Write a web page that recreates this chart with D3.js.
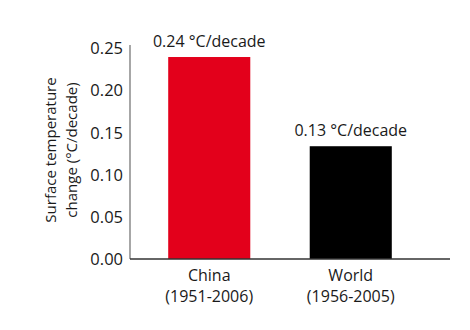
<!DOCTYPE html>
<html><head><meta charset="utf-8">
<script src="https://cdn.jsdelivr.net/npm/d3@7"></script>
<style>body{margin:0;background:#fff}svg{display:block}text{font-family:"Open Sans",sans-serif;fill:#1a1a1a}</style>
</head><body><svg id="c" width="470" height="330"></svg>
<script>
const categories = ["China", "World"];
const periods = ["(1951-2006)", "(1956-2005)"];
const values = [0.24, 0.134];
const valueLabels = ["0.24 °C/decade", "0.13 °C/decade"];
const colors = ["#e3001b", "#000000"];
const yTicks = [0, 0.05, 0.10, 0.15, 0.20, 0.25];

const svg = d3.select("#c");
const y = d3.scaleLinear().domain([0, 0.25]).range([259, 48.6]);
const x = d3.scaleBand().domain(categories).range([130, 430]).paddingInner(0.42).paddingOuter(0.27);

svg.selectAll("rect.bar").data(categories).join("rect")
  .attr("x", d => x(d)).attr("width", x.bandwidth())
  .attr("y", (d,i) => y(values[i])).attr("height", (d,i) => y(0) - y(values[i]))
  .attr("fill", (d,i) => colors[i]);

svg.selectAll("text.vl").data(categories).join("text")
  .attr("x", d => x(d) + x.bandwidth()/2).attr("y", (d,i) => y(values[i]) - 10)
  .attr("text-anchor", "middle").attr("font-size", 16).text((d,i) => valueLabels[i]);

const ya = svg.append("g").attr("transform", "translate(130,0)")
  .call(d3.axisLeft(y).tickValues(yTicks).tickFormat(d3.format(".2f")).tickSize(0).tickPadding(7));
ya.select(".domain").attr("stroke", "#777").attr("stroke-width", 1.3).attr("d", "M0,45V259");
ya.selectAll("text").attr("font-size", 16.5).attr("font-family", "Open Sans").attr("fill", "#1a1a1a");

svg.append("line").attr("x1", 130).attr("x2", 450).attr("y1", 259).attr("y2", 259)
  .attr("stroke", "#333").attr("stroke-width", 1.3);

const xl = svg.selectAll("text.xl").data(categories).join("text")
  .attr("text-anchor", "middle").attr("font-size", 16)
  .attr("x", d => x(d) + x.bandwidth()/2);
xl.append("tspan").attr("x", d => x(d) + x.bandwidth()/2).attr("y", 281).text(d => d);
xl.append("tspan").attr("x", d => x(d) + x.bandwidth()/2).attr("y", 302).text((d,i) => periods[i]);

const yt = svg.append("text").attr("transform", "translate(0,150) rotate(-90)")
  .attr("text-anchor", "middle").attr("font-size", 15);
yt.append("tspan").attr("x", 0).attr("y", 56).text("Surface temperature");
yt.append("tspan").attr("x", 0).attr("y", 77).text("change (°C/decade)");
</script></body></html>
